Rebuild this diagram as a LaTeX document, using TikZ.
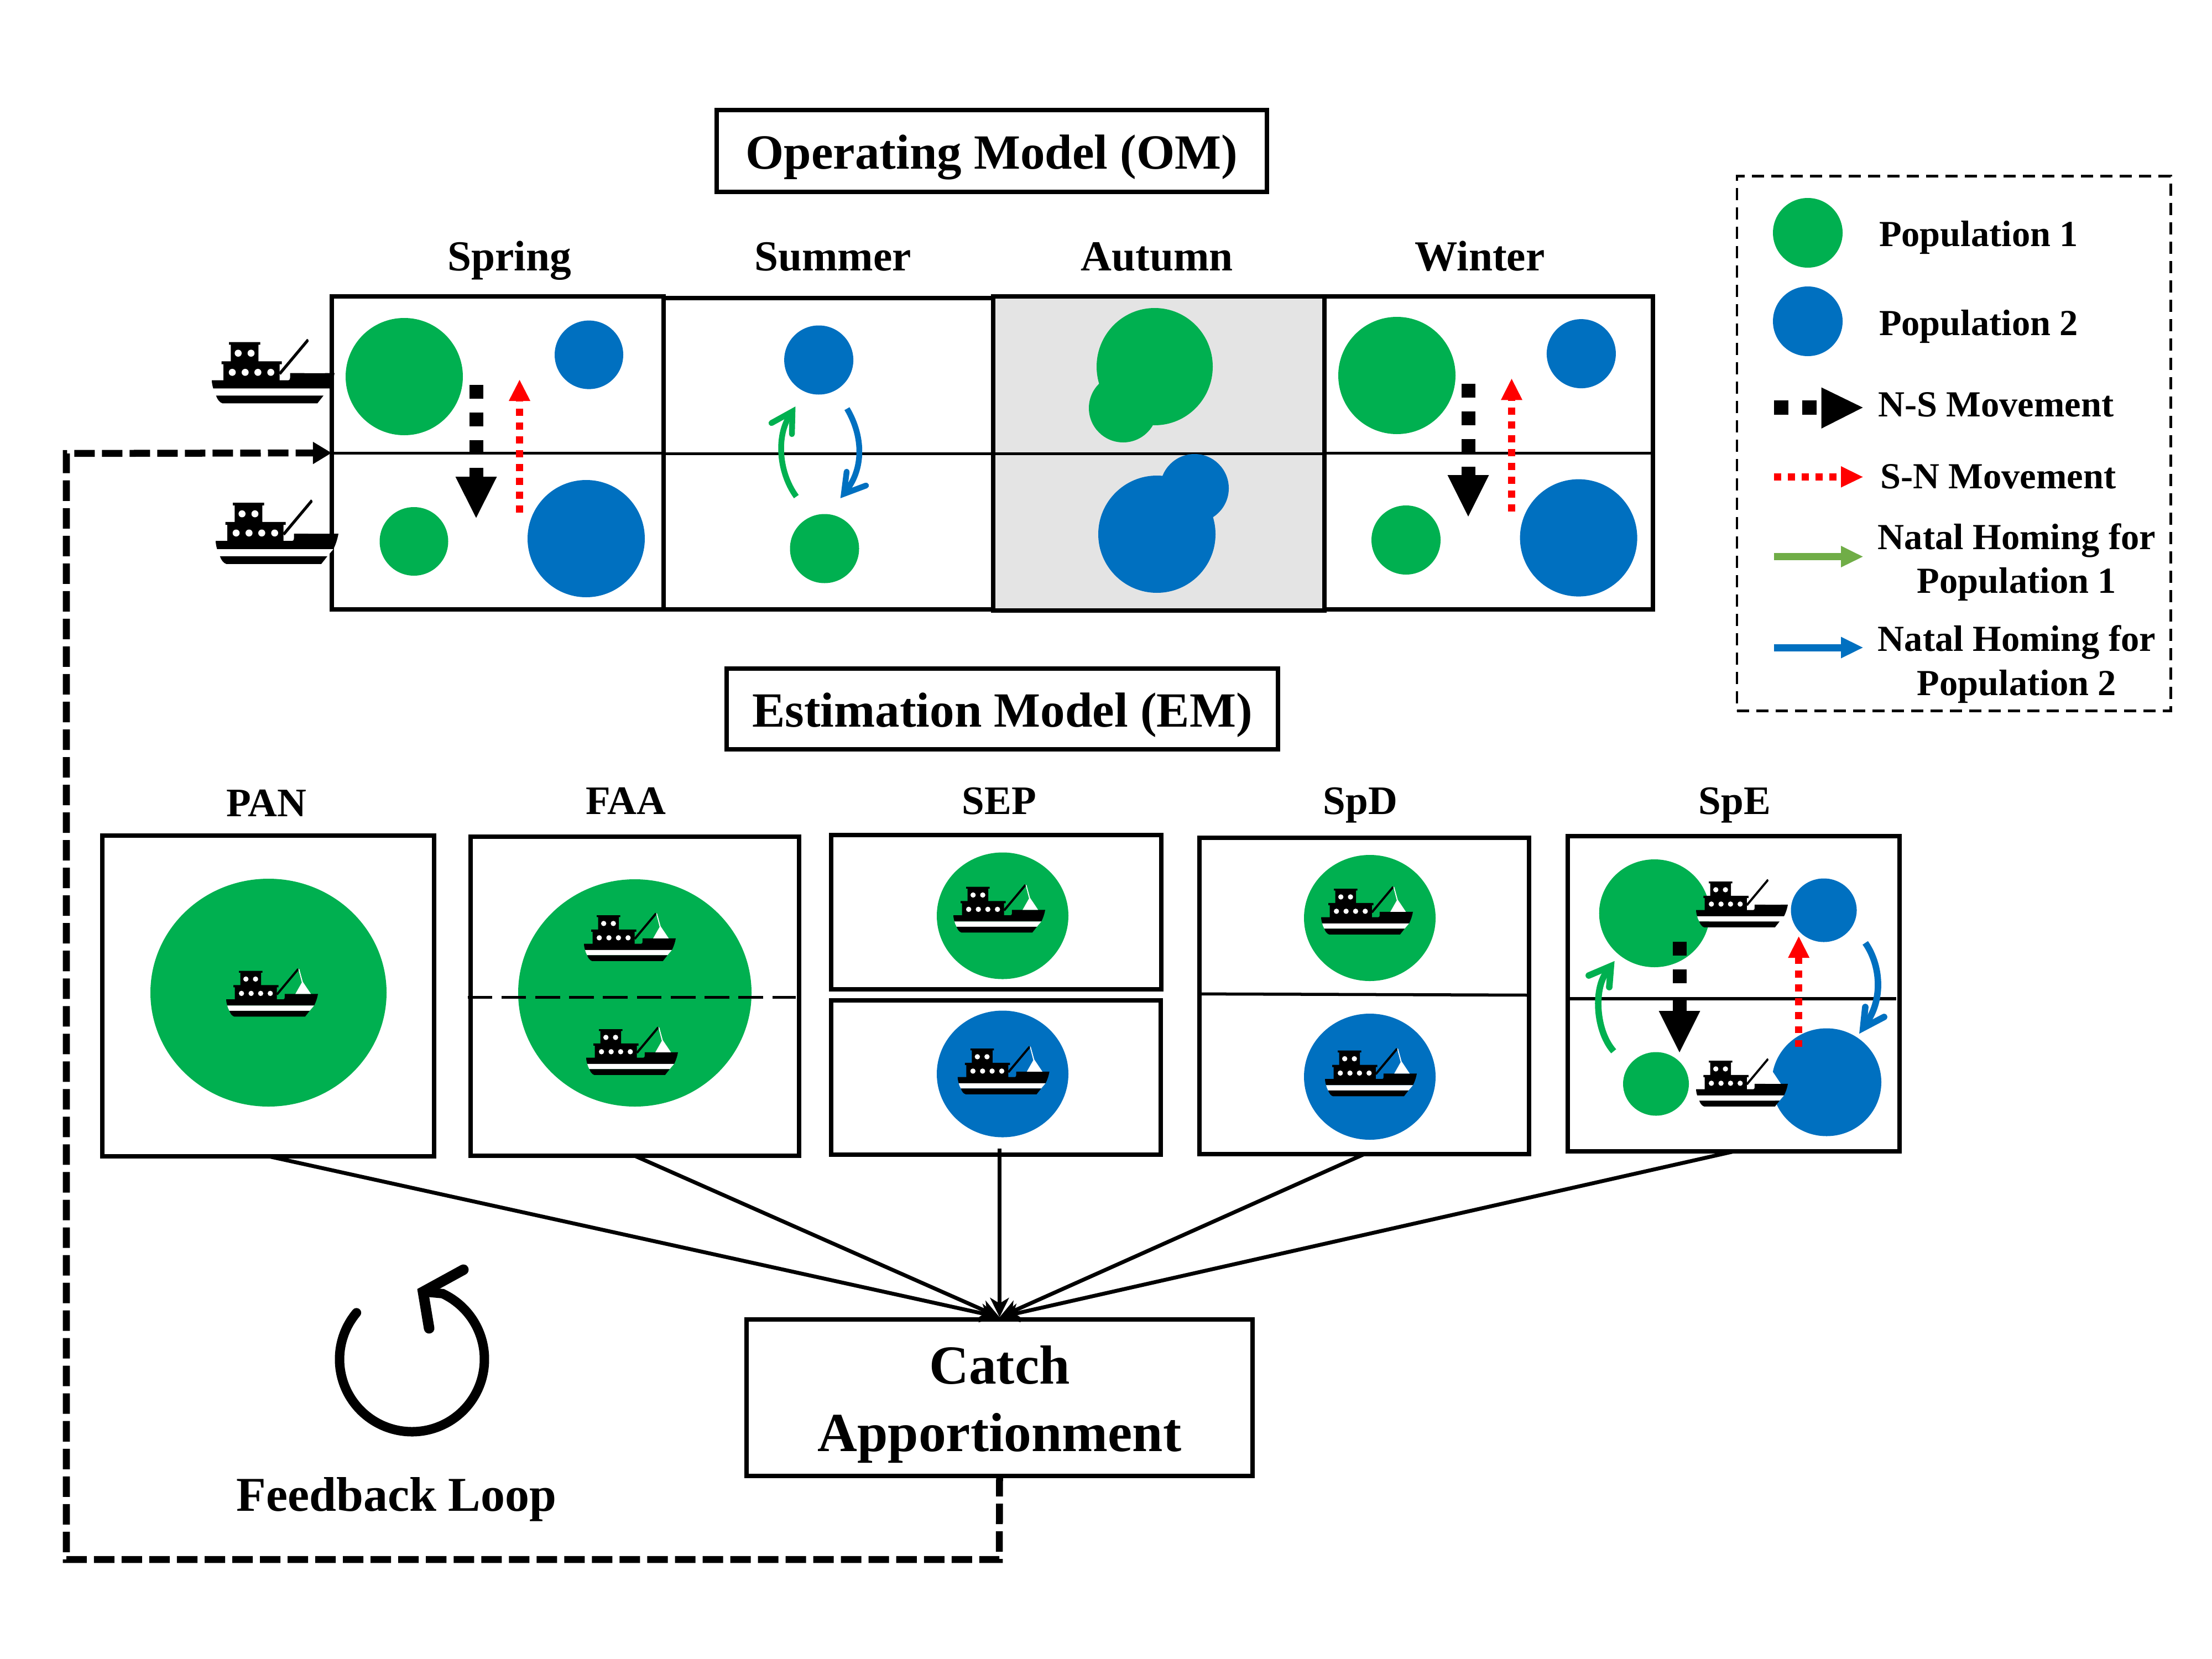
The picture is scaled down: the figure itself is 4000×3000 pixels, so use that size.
\documentclass[tikz,border=0pt]{standalone}
\usepackage{fontspec}
\setmainfont{Liberation Serif}
\usetikzlibrary{arrows.meta}
\definecolor{popgreen}{HTML}{00B050}
\definecolor{popblue}{HTML}{0070C0}
\definecolor{legendgreen}{HTML}{70AD47}
\definecolor{cellgray}{HTML}{E4E4E4}
\tikzset{
  boxnode/.style={draw=black,line width=0.8mm,inner sep=0pt,outer sep=0pt},
  divider/.style={black,line width=0.5mm},
  txt/.style={inner sep=0pt,outer sep=0pt,text=black},
  titlefont/.style={font=\fontsize{25.3}{30}\selectfont\bfseries},
  seasonfont/.style={txt,anchor=base,font=\fontsize{22}{26}\selectfont\bfseries},
  emfont/.style={txt,anchor=base,font=\fontsize{20.8}{25}\selectfont\bfseries},
  legendfont/.style={txt,anchor=base west,font=\fontsize{18.9}{22.8}\selectfont\bfseries},
  legendtwo/.style={txt,align=center,font=\fontsize{18.9}{22.6}\selectfont\bfseries},
  feedarrow/.style={black,line width=1.25mm,dash pattern=on 3.7mm off 1.3mm},
  apportion/.style={black,line width=0.7mm,-{Stealth[length=3.5mm,width=3.4mm,inset=1mm]}},
  homing/.style={line width=#1,line cap=butt},
  chevron/.style={line width=#1,line cap=round,line join=miter,miter limit=10}
}
% ship: left, top, width (in picture units)
\newcommand{\shipat}[4]{%
  \begin{scope}[shift={(#1,#2)},scale=#3/666]
    \fill[black] (0,227)--(63,227)--(63,140)--(53,140)--(53,124)--(103,124)--(103,34)--(93,34)--(93,20)--(263,20)--(263,34)--(253,34)--(253,124)--(380,124)--(380,140)--(368,140)--(368,227)--(416,227) .. controls (422,227) and (425,220) .. (425,212)--(425,188)--(666,188) .. controls (660,220) and (650,250) .. (638,272)--(8,272) .. controls (3,255) and (0,240) .. (0,227)--cycle;
    \fill[white] (8,272)--(638,272)--(606,310)--(23,310) .. controls (16,298) and (11,285) .. (8,272)--cycle;
    \fill[black] (23,310)--(606,310)--(573,352)--(58,352) .. controls (42,348) and (30,330) .. (23,310)--cycle;
    \fill[black] (362,187)--(517,2)--(529,12)--(374,197)--cycle;
    \fill[white] (143,80) circle [radius=19] (213,80) circle [radius=19]
                 (111,184) circle [radius=19] (181,184) circle [radius=19]
                 (250,184) circle [radius=19] (320,184) circle [radius=19];
    \fill[white] (524,8)--(530,6)--(556,100)--(615,188)--(502,188)--(549,105)--cycle;
  \end{scope}}
\newcommand{\popdisk}[5]{\fill[#1] (#2,#3) ellipse [x radius=#4,y radius=#5];}
% north-south arrow: x, dash start, head base, tip
\newcommand{\nsarrow}[4]{%
  \draw[black,line width=2.5mm,dash pattern=on 2.5mm off 2.5mm] (#1,#2)--(#1,#3);
  \fill[black] ({#1-37.5},#3)--({#1+37.5},#3)--(#1,#4)--cycle;}
% south-north arrow: x, bottom, head base, tip
\newcommand{\snarrow}[4]{%
  \draw[red,line width=1.26mm,dash pattern=on 1.25mm off 1.25mm] (#1,#2)--(#1,#3);
  \fill[red] ({#1-19.5},#3)--({#1+19.5},#3)--(#1,#4)--cycle;}
\begin{document}
\begin{tikzpicture}[x=0.01cm,y=-0.01cm]
\useasboundingbox (0,0) rectangle (4000,3000);
\fill[white] (0,0) rectangle (4000,3000);

% ---------- Operating model
\node[boxnode,titlefont,minimum width=99.5mm,minimum height=14.8mm] (omtitle) at (1793.5,273) {\rule{0pt}{8.45mm}Operating Model (OM)};
\node[seasonfont] (lspring) at (921,489) {Spring};
\node[seasonfont] (lsummer) at (1506,489) {Summer};
\node[seasonfont] (lautumn) at (2092,489) {Autumn};
\node[seasonfont] (lwinter) at (2676,489) {Winter};

\node[boxnode,fill=cellgray,minimum width=59.9mm,minimum height=56.8mm] (autumn) at (2095.5,820) {};
\node[boxnode,minimum width=60mm,minimum height=56.6mm] (spring) at (900,819) {};
\node[boxnode,minimum width=59.6mm,minimum height=56.3mm] (summer) at (1498,820.5) {};
\node[boxnode,minimum width=59.4mm,minimum height=56.6mm] (winter) at (2692,819) {};
\draw[divider] (spring.west)--(spring.east);
\draw[divider] (summer.west)--(summer.east);
\draw[divider] (autumn.west)--(autumn.east);
\draw[divider] (winter.west)--(winter.east);

% spring
\popdisk{popgreen}{731}{681}{106}{106}
\popdisk{popblue}{1065}{641.6}{62}{62}
\popdisk{popgreen}{748.5}{979}{62}{62}
\popdisk{popblue}{1060}{974}{106}{106}
\nsarrow{861}{696}{862}{936.5}
\snarrow{939.5}{926.6}{725}{687}
\shipat{383}{612}{222}{}
\shipat{390}{902.5}{222}{}

% summer
\popdisk{popblue}{1480.6}{651}{62.5}{62.5}
\popdisk{popgreen}{1491}{992}{62.5}{62.5}
\draw[popgreen,homing=1.05mm] (1440,898) .. controls (1405,850) and (1405,780) .. (1431,748);
\draw[popgreen,chevron=1.05mm] (1395,765)--(1433,744)--(1432,785);
\draw[popblue,homing=1.05mm] (1531.6,739) .. controls (1562,790) and (1562,850) .. (1528,890);
\draw[popblue,chevron=1.05mm] (1531,853)--(1526,893)--(1566,878);

% autumn
\popdisk{popgreen}{2088}{663}{105}{106}
\popdisk{popgreen}{2031}{738}{62}{62}
\popdisk{popblue}{2092}{966}{106}{106}
\popdisk{popblue}{2160}{883}{62}{62}

% winter
\popdisk{popgreen}{2526}{679}{106}{106}
\popdisk{popblue}{2859.4}{639.6}{62.5}{62.5}
\popdisk{popgreen}{2542.5}{976.5}{62.5}{62.5}
\popdisk{popblue}{2854.6}{972.6}{106}{106}
\nsarrow{2655}{694}{859}{934}
\snarrow{2733.5}{924.7}{723.4}{685}

% ---------- Legend
\node[boxnode,line width=0.45mm,dash pattern=on 2.2mm off 1.3mm,minimum width=78.4mm,minimum height=96.6mm] (legend) at (3533,802) {};
\popdisk{popgreen}{3269}{421}{63}{63}
\popdisk{popblue}{3269}{581}{63}{63}
\node[legendfont] (lpop1) at (3398,445) {Population 1};
\node[legendfont] (lpop2) at (3398,606) {Population 2};
\draw[black,line width=2.5mm,dash pattern=on 2.55mm off 2.55mm] (3208,737)--(3285,737);
\fill[black] (3293.5,700.5)--(3368.5,737)--(3293.5,775)--cycle;
\node[legendfont] (lns) at (3396,753) {N-S Movement};
\draw[red,line width=1.3mm,dash pattern=on 1.3mm off 1.2mm] (3208,862.5)--(3322,862.5);
\fill[red] (3329,843)--(3368.5,862.5)--(3329,881.6)--cycle;
\node[legendfont] (lsn) at (3400,883) {S-N Movement};
\draw[legendgreen,line width=1.3mm] (3208,1006.6)--(3330,1006.6);
\fill[legendgreen] (3329,987)--(3368.5,1006.6)--(3329,1026)--cycle;
\node[legendtwo] (lnh1) at (3647,1016.5) {Natal Homing for\\Population 1};
\draw[popblue,line width=1.3mm] (3208,1171)--(3330,1171);
\fill[popblue] (3329,1151.5)--(3368.5,1171)--(3329,1190.5)--cycle;
\node[legendtwo] (lnh2) at (3647,1201) {Natal Homing for\\Population 2};

% ---------- Estimation model
\node[boxnode,titlefont,minimum width=99.7mm,minimum height=14.6mm] (emtitle) at (1812.5,1282) {\rule{0pt}{8.45mm}Estimation Model (EM)};
\node[emfont] (lpan) at (482,1476) {PAN};
\node[emfont] (lfaa) at (1132,1472) {FAA};
\node[emfont] (lsep) at (1807,1472) {SEP};
\node[emfont] (lspd) at (2460,1472) {SpD};
\node[emfont] (lspe) at (3137,1472) {SpE};

\node[boxnode,minimum width=60mm,minimum height=57.96mm] (pan) at (485,1800.8) {};
\node[boxnode,minimum width=59.4mm,minimum height=57.7mm] (faa) at (1148,1801.5) {};
\node[boxnode,minimum width=59.7mm,minimum height=27.9mm] (septop) at (1801.5,1649.5) {};
\node[boxnode,minimum width=59.6mm,minimum height=27.9mm] (seplow) at (1801,1948.5) {};
\node[boxnode,minimum width=59.6mm,minimum height=57.2mm] (spd) at (2467,1800.8) {};
\node[boxnode,minimum width=60mm,minimum height=57mm] (spe) at (3135,1797) {};

% PAN
\popdisk{popgreen}{485.5}{1795}{213.5}{206}
\shipat{409}{1750.5}{166}{}
% FAA
\popdisk{popgreen}{1148}{1795.5}{211}{205.5}
\draw[black,line width=0.55mm,dash pattern=on 4.47mm off 1.65mm] (845.5,1803.7)--(1439,1803.7);
\shipat{1056}{1650}{166}{}
\shipat{1060}{1856}{166}{}
% SEP
\popdisk{popgreen}{1813}{1656}{119}{114.5}
\popdisk{popblue}{1813}{1942}{119}{114.5}
\shipat{1724}{1598.5}{166}{}
\shipat{1731.7}{1891}{166}{}
% SpD
\draw[black,line width=0.55mm] (2169,1797.3)--(2765,1799.5);
\popdisk{popgreen}{2477}{1660}{119}{114}
\popdisk{popblue}{2477}{1947}{119}{114}
\shipat{2389}{1602}{166}{}
\shipat{2396}{1894.6}{166}{}
% SpE
\draw[black,line width=0.55mm] (2839,1806)--(3429,1806);
\popdisk{popgreen}{2991.7}{1651.5}{100}{97.5}
\popdisk{popblue}{3298}{1646}{59.5}{57.5}
\popdisk{popgreen}{2994.5}{1960}{59.5}{57.5}
\popdisk{popblue}{3303}{1957}{99}{97.5}
\shipat{3067}{1589}{166}{}
\shipat{3067}{1913}{166}{}
\nsarrow{3037}{1703}{1828}{1903}
\snarrow{3252.7}{1893}{1732}{1693.5}
\draw[popgreen,homing=1.17mm] (2918,1901) .. controls (2882,1860) and (2882,1775) .. (2911,1752);
\draw[popgreen,chevron=1.17mm] (2873,1764)--(2913,1747)--(2910,1785);
\draw[popblue,homing=1.17mm] (3373,1705) .. controls (3404,1750) and (3404,1815) .. (3371,1855);
\draw[popblue,chevron=1.17mm] (3373,1821)--(3369,1859)--(3407,1839);

% ---------- Catch apportionment and connectors
\node[boxnode,align=center,font=\fontsize{28.3}{34.7}\selectfont\bfseries,minimum width=91.5mm,minimum height=28.3mm] (catch) at (1807.5,2527.5) {\rule{0pt}{9.4mm}Catch\\Apportionment};
\coordinate (catchin) at ([yshift=0.4mm]catch.north);
\coordinate (sepout) at (1807.5,2077);
\draw[apportion] (pan.south)--(catchin);
\draw[apportion] (faa.south)--(catchin);
\draw[apportion] (sepout)--(catchin);
\draw[apportion] (spd.south)--(catchin);
\draw[apportion] (spe.south)--(catchin);

% ---------- Feedback
\coordinate (fbcorner1) at (1807,2820);
\coordinate (fbcorner2) at (120,2820);
\coordinate (fbcorner3) at (120,820);
\draw[feedarrow,-{Triangle[length=3.4mm,width=3.8mm]}] (catch.south)--(fbcorner1)--(fbcorner2)--(fbcorner3)--(spring.west);
\draw[black,line width=1.7mm,line cap=round] plot[domain=140:425,samples=90,smooth] ({745+131*cos(\x)},{2458-131*sin(\x)}) -- (765,2336);
\draw[chevron=1.9mm,black] (838,2296)--(765,2336)--(776,2402);
\node[txt,anchor=base,font=\fontsize{25}{30}\selectfont\bfseries] (lfeedback) at (717,2732) {Feedback Loop};
\end{tikzpicture}
\end{document}
